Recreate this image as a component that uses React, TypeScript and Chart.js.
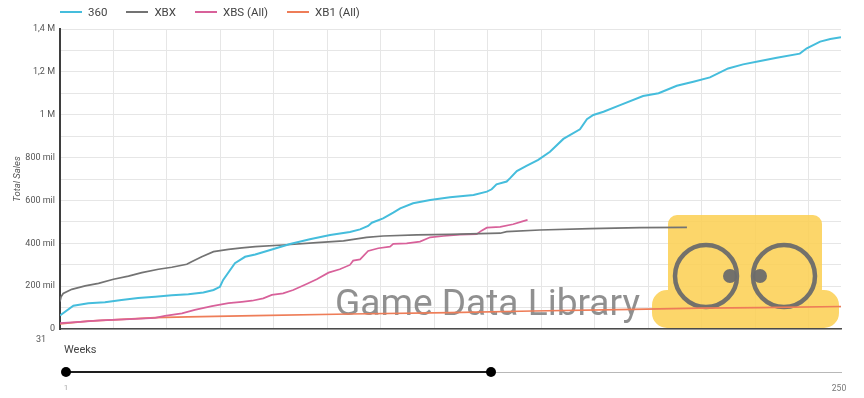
import React, { useEffect, useRef } from 'react';
import { Chart, registerables } from 'chart.js';

Chart.register(...registerables);

// ---- data (x = week index in the visible window, y = cumulative sales) ----
const WEEKS_360 = [0, 2.5, 5.3, 8.4, 11.5, 14.6, 17.8, 20.9, 24, 26.8, 28.7, 29.9, 30.5, 32.7, 34.6, 36.5, 39.3, 43, 46.7, 50.5, 54.2, 56.1, 57.6, 58.3, 60.4, 62.3, 63.6, 66, 69.2, 72.9, 77.3, 79.8, 80.7, 81.6, 83.5, 84.1, 85.4, 87.2, 89.4, 91.6, 94.1, 97.2, 98.5, 99.7, 101.6, 104.7, 109, 111.9, 115.3, 118.4, 121.5, 124.9, 127.7, 130.9, 134, 138.3, 139.6, 142.1, 144, 146];
const SALES_360 = [63000, 109000, 120000, 125000, 135000, 145000, 151000, 157000, 162000, 170000, 182000, 197000, 229000, 307000, 337000, 348000, 369000, 397000, 419000, 439000, 453000, 465000, 481000, 496000, 516000, 543000, 563000, 587000, 602000, 615000, 625000, 641000, 652000, 675000, 688000, 703000, 737000, 761000, 789000, 827000, 887000, 932000, 979000, 999000, 1014000, 1045000, 1087000, 1100000, 1135000, 1154000, 1174000, 1216000, 1235000, 1251000, 1266000, 1285000, 1310000, 1341000, 1353000, 1361000];

const WEEKS_XBX = [0, 0.2, 0.6, 2.2, 4.7, 7.2, 10, 12.8, 15.3, 18.4, 20.9, 23.7, 24.6, 26.5, 28.7, 31.5, 34, 36.5, 41.7, 48, 53, 57.3, 60.4, 66.7, 72.9, 82.3, 83.5, 89.7, 99.1, 108.4, 117.2];
const SALES_XBX = [128000, 150000, 166000, 185000, 201000, 213000, 232000, 247000, 263000, 279000, 288000, 302000, 314000, 337000, 361000, 372000, 379000, 384000, 392000, 403000, 411000, 428000, 434000, 439000, 442000, 447000, 454000, 462000, 468000, 473000, 474000];

const WEEKS_XBS = [0, 3.7, 7.5, 13.1, 17.8, 19.6, 22.8, 25.2, 28.4, 31.5, 34, 35.9, 38, 39.6, 41.7, 43.6, 46.1, 48, 50.2, 52.3, 54.2, 54.8, 56.1, 57.6, 59.5, 61.7, 62.3, 64.8, 67.3, 69.2, 71.7, 74.8, 77.9, 78.8, 79.8, 82.3, 84.7, 86.3, 87.4];
const SALES_XBS = [27000, 33000, 40000, 46000, 52000, 61000, 73000, 89000, 107000, 121000, 127000, 132000, 143000, 159000, 166000, 182000, 210000, 232000, 263000, 279000, 299000, 319000, 325000, 364000, 377000, 384000, 397000, 400000, 408000, 428000, 434000, 440000, 443000, 459000, 473000, 477000, 489000, 501000, 509000];

const WEEKS_XB1 = [0, 5.2, 11.6, 17.8, 23.9, 36.5, 54.2, 72.9, 88.4, 107.1, 119.6, 130.9, 146];
const SALES_XB1 = [24000, 37000, 45000, 53000, 57000, 62000, 70000, 76000, 84000, 92000, 97000, 100000, 105000];

const SERIES_LABELS = ['360', 'XBX', 'XBS (All)', 'XB1 (All)'];
const SERIES_COLORS = ['#45bddc', '#737373', '#d8619a', '#ee7d58'];
const X_FIRST_LABEL = '31';
const SLIDER_MIN = '1';
const SLIDER_MAX = '250';

const toPoints = (xs: number[], ys: number[]) => xs.map((x, i) => ({ x, y: ys[i] }));

const watermark = {
  id: 'watermark',
  beforeDatasetsDraw(chart: any) {
    const ctx = chart.ctx as CanvasRenderingContext2D;
    ctx.save();
    // yellow logo
    ctx.globalAlpha = 0.88;
    ctx.fillStyle = '#fcd055';
    ctx.beginPath();
    (ctx as any).roundRect(668, 215, 154, 100, 9);
    (ctx as any).roundRect(652, 290, 187, 38, 15);
    ctx.fill();
    ctx.globalAlpha = 0.95;
    ctx.strokeStyle = '#6b6b6b';
    ctx.lineWidth = 4.5;
    ctx.beginPath();
    ctx.arc(706, 276, 31, 0, Math.PI * 2);
    ctx.stroke();
    ctx.beginPath();
    ctx.arc(784, 276, 31, 0, Math.PI * 2);
    ctx.stroke();
    ctx.fillStyle = '#6b6b6b';
    ctx.beginPath();
    ctx.arc(730, 276, 7, 0, Math.PI * 2);
    ctx.fill();
    ctx.beginPath();
    ctx.arc(760, 276, 7, 0, Math.PI * 2);
    ctx.fill();
    // text
    ctx.globalAlpha = 0.85;
    const text = 'Game Data Library';
    let size = 32;
    ctx.font = `${size}px Roboto`;
    const w = ctx.measureText(text).width;
    size = size * 305 / w;
    ctx.font = `${size}px Roboto`;
    ctx.fillStyle = '#7c7c7c';
    ctx.textBaseline = 'alphabetic';
    ctx.textAlign = 'left';
    ctx.fillText(text, 335, 315);
    ctx.restore();
  },
};

export default function App() {
  const ref = useRef<HTMLCanvasElement | null>(null);

  useEffect(() => {
    if (!ref.current) return;
    const seriesData = [
      toPoints(WEEKS_360, SALES_360),
      toPoints(WEEKS_XBX, SALES_XBX),
      toPoints(WEEKS_XBS, SALES_XBS),
      toPoints(WEEKS_XB1, SALES_XB1),
    ];
    const chart = new Chart(ref.current, {
      type: 'line',
      data: {
        datasets: seriesData.map((d, i) => ({
          label: SERIES_LABELS[i],
          data: d,
          borderColor: SERIES_COLORS[i],
          backgroundColor: SERIES_COLORS[i],
          borderWidth: i === 0 ? 2 : 1.7,
          pointRadius: 0,
          tension: 0,
          fill: false,
        })),
      },
      options: {
        animation: false,
        responsive: false,
        devicePixelRatio: 1,
        layout: { padding: { left: 0, top: 29, right: 23, bottom: 49 } },
        plugins: {
          legend: { display: false },
          tooltip: { enabled: false },
        },
        scales: {
          x: {
            type: 'linear',
            min: 0,
            max: 146,
            ticks: {
              stepSize: 10,
              autoSkip: false,
              maxRotation: 0,
              padding: 5,
              labelOffset: -19,
              color: '#555',
              font: { family: 'Roboto', size: 9 },
              callback: (v: any) => (Number(v) === 0 ? X_FIRST_LABEL : ''),
            },
            afterBuildTicks: (s: any) => {
              s.ticks = s.ticks.filter((t: any) => t.value % 10 === 0);
            },
            afterFit: (s: any) => {
              s.height = 20;
            },
            grid: { color: '#e6e6e6', drawTicks: false, lineWidth: 1 },
            border: { color: '#4a4a4a', width: 1.5 },
          },
          y: {
            min: 0,
            max: 1400000,
            ticks: {
              stepSize: 100000,
              padding: 5,
              color: '#555',
              font: { family: 'Roboto', size: 9 },
              callback: (v: any) => {
                const n = Math.round(Number(v));
                if (n % 200000 !== 0) return '';
                if (n === 0) return '0';
                if (n >= 1000000) return String(n / 1000000).replace('.', ',') + ' M';
                return n / 1000 + ' mil';
              },
            },
            afterFit: (s: any) => {
              s.width = 60;
            },
            title: {
              display: true,
              text: 'Total Sales',
              color: '#555',
              font: { family: 'Roboto', size: 9.5, style: 'italic' },
              padding: { top: 12, bottom: 0 },
            },
            grid: { color: '#e6e6e6', drawTicks: false, lineWidth: 1 },
            border: { color: '#3e3e3e', width: 2 },
          },
        },
      },
      plugins: [watermark],
    });
    return () => chart.destroy();
  }, []);

  return (
    <div style={{ position: 'fixed', left: 0, top: 0, width: 864, height: 398, background: '#fff', overflow: 'hidden' }}>
      <canvas ref={ref} width={864} height={398} style={{ position: 'absolute', left: 0, top: 0, width: 864, height: 398 }} />
      <div
        style={{
          position: 'absolute',
          left: 60,
          top: 5,
          display: 'flex',
          alignItems: 'center',
          fontFamily: 'Roboto',
          fontSize: 11.5,
          color: '#444',
          lineHeight: '14px',
        }}
      >
        {SERIES_LABELS.map((l, i) => (
          <div key={l} style={{ display: 'flex', alignItems: 'center', marginRight: 19 }}>
            <span style={{ display: 'inline-block', width: 22, height: 2, background: SERIES_COLORS[i], marginRight: 6 }} />
            <span>{l}</span>
          </div>
        ))}
      </div>
      <div style={{ position: 'absolute', left: 64, top: 343, fontFamily: 'Roboto', fontSize: 11, color: '#444', lineHeight: '14px' }}>
        Weeks
      </div>
      <div style={{ position: 'absolute', left: 66, top: 371, width: 425, height: 2, background: '#1e1e1e' }} />
      <div style={{ position: 'absolute', left: 491, top: 371.5, width: 351, height: 1, background: '#b8b8b8' }} />
      <div style={{ position: 'absolute', left: 61, top: 367, width: 10, height: 10, borderRadius: '50%', background: '#000' }} />
      <div style={{ position: 'absolute', left: 486, top: 367, width: 10, height: 10, borderRadius: '50%', background: '#000' }} />
      <div style={{ position: 'absolute', left: 56, top: 383, width: 20, textAlign: 'center', fontFamily: 'Roboto', fontSize: 8, color: '#aaa', lineHeight: '10px' }}>
        {SLIDER_MIN}
      </div>
      <div style={{ position: 'absolute', left: 824, top: 383, width: 30, textAlign: 'center', fontFamily: 'Roboto', fontSize: 8.5, color: '#777', lineHeight: '10px' }}>
        {SLIDER_MAX}
      </div>
    </div>
  );
}
